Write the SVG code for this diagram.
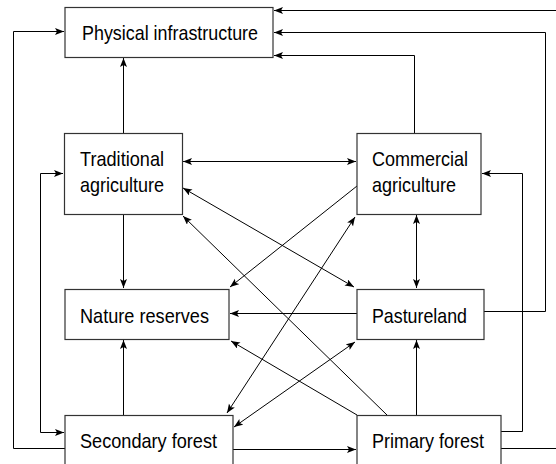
<svg xmlns="http://www.w3.org/2000/svg" width="556" height="464" viewBox="0 0 556 464">
<defs>
<style>
.box{fill:#fff;stroke:#333;stroke-width:1.2}
.lbl{font-family:"Liberation Sans",Arial,sans-serif;font-size:21px;fill:#000}
.c{fill:none;stroke:#000;stroke-width:1}
</style>
<marker id="ah" markerUnits="userSpaceOnUse" markerWidth="10" markerHeight="8" refX="9" refY="3.5" orient="auto-start-reverse">
<path d="M0,0 L9,3.5 L0,7 L2,3.5 z" fill="#000"/>
</marker>
</defs>
<rect width="556" height="464" fill="#fff"/>
<g id="connectors">
<polyline class="c" points="65,448.5 13.5,448.5 13.5,31.5 64,31.5" marker-end="url(#ah)"/>
<polyline class="c" points="63,173.5 40.5,173.5 40.5,432.5 64,432.5" marker-start="url(#ah)" marker-end="url(#ah)"/>
<line class="c" x1="123.5" y1="133" x2="123.5" y2="58" marker-end="url(#ah)"/>
<line class="c" x1="123.5" y1="214" x2="123.5" y2="288" marker-end="url(#ah)"/>
<line class="c" x1="123.5" y1="415" x2="123.5" y2="340" marker-end="url(#ah)"/>
<line class="c" x1="183" y1="161.5" x2="356" y2="161.5" marker-start="url(#ah)" marker-end="url(#ah)"/>
<polyline class="c" points="414.5,133 414.5,55.5 274,55.5" marker-end="url(#ah)"/>
<polyline class="c" points="484,311.5 545.5,311.5 545.5,32.5 274,32.5" marker-end="url(#ah)"/>
<path class="c" d="M501,448.5 H560 M560,10.5 H274" marker-end="url(#ah)"/>
<polyline class="c" points="501,431.5 522.5,431.5 522.5,173.5 482,173.5" marker-end="url(#ah)"/>
<line class="c" x1="416.5" y1="215" x2="416.5" y2="288" marker-start="url(#ah)" marker-end="url(#ah)"/>
<line class="c" x1="357" y1="313.5" x2="230" y2="313.5" marker-end="url(#ah)"/>
<line class="c" x1="416.5" y1="415" x2="416.5" y2="340" marker-end="url(#ah)"/>
<line class="c" x1="233" y1="449.5" x2="356" y2="449.5" marker-end="url(#ah)"/>
<line class="c" x1="357" y1="186" x2="230" y2="287" marker-end="url(#ah)"/>
<line class="c" x1="387" y1="415" x2="183" y2="216" marker-end="url(#ah)"/>
<line class="c" x1="183" y1="188" x2="354" y2="287" marker-start="url(#ah)" marker-end="url(#ah)"/>
<line class="c" x1="227" y1="413" x2="355" y2="217" marker-start="url(#ah)" marker-end="url(#ah)"/>
<line class="c" x1="234" y1="427" x2="355" y2="342" marker-start="url(#ah)" marker-end="url(#ah)"/>
<line class="c" x1="357" y1="415" x2="231" y2="341" marker-end="url(#ah)"/>
</g>
<g id="physical-infrastructure">
<rect class="box" x="65" y="7.5" width="208" height="50"/>
<text class="lbl" x="82" y="40" textLength="176" lengthAdjust="spacingAndGlyphs">Physical infrastructure</text>
</g>
<g id="traditional-agriculture">
<rect class="box" x="64.5" y="133.5" width="118" height="81"/>
<text class="lbl" x="80" y="166" textLength="84" lengthAdjust="spacingAndGlyphs">Traditional</text>
<text class="lbl" x="80" y="192" textLength="84" lengthAdjust="spacingAndGlyphs">agriculture</text>
</g>
<g id="commercial-agriculture">
<rect class="box" x="357" y="133.5" width="124" height="81"/>
<text class="lbl" x="372" y="166" textLength="96" lengthAdjust="spacingAndGlyphs">Commercial</text>
<text class="lbl" x="372" y="192" textLength="84" lengthAdjust="spacingAndGlyphs">agriculture</text>
</g>
<g id="nature-reserves">
<rect class="box" x="65" y="289.5" width="164" height="50"/>
<text class="lbl" x="80" y="323" textLength="129" lengthAdjust="spacingAndGlyphs">Nature reserves</text>
</g>
<g id="pastureland">
<rect class="box" x="357" y="289.5" width="127" height="50"/>
<text class="lbl" x="372" y="323" textLength="95" lengthAdjust="spacingAndGlyphs">Pastureland</text>
</g>
<g id="secondary-forest">
<rect class="box" x="65" y="415.5" width="168" height="55"/>
<text class="lbl" x="80" y="448" textLength="137" lengthAdjust="spacingAndGlyphs">Secondary forest</text>
</g>
<g id="primary-forest">
<rect class="box" x="357" y="415.5" width="144" height="55"/>
<text class="lbl" x="372" y="448" textLength="112" lengthAdjust="spacingAndGlyphs">Primary forest</text>
</g>
</svg>
